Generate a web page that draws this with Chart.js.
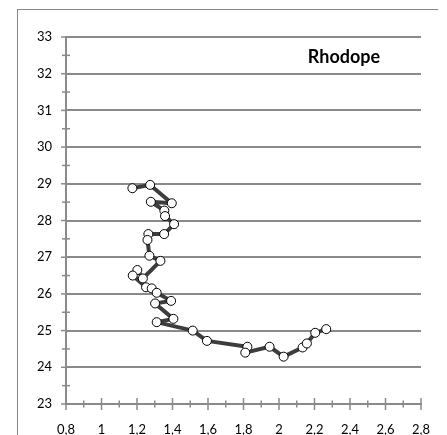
<!DOCTYPE html>
<html>
<head>
<meta charset="utf-8">
<script src="https://cdn.jsdelivr.net/npm/chart.js@4.4.0/dist/chart.umd.min.js"></script>
<style>
  body { margin: 0; background: #fff; }
  #wrap { position: relative; width: 447px; height: 435px; overflow: hidden; }
  #frame { position: absolute; left: 17px; top: 9px; width: 420px; height: 440px;
           border-left: 1px solid #878787; border-top: 1px solid #878787; }
  canvas { position: absolute; left: 0; top: 0; }
</style>
</head>
<body>
<div id="wrap">
  <div id="frame"></div>
  <canvas id="myChart" width="447" height="435"></canvas>
</div>
<script>
// Values, in line order
const xValues = [1.174, 1.274, 1.396, 1.278, 1.354, 1.358, 1.409, 1.353, 1.264, 1.259,
                 1.270, 1.332, 1.233, 1.202, 1.176, 1.251, 1.283, 1.311, 1.392, 1.302,
                 1.405, 1.311, 1.514, 1.594, 1.822, 1.810, 1.947, 2.026, 2.133, 2.157,
                 2.204, 2.266];
const yValues = [28.88, 28.97, 28.47, 28.51, 28.27, 28.12, 27.90, 27.63, 27.63, 27.47,
                 27.04, 26.90, 26.42, 26.65, 26.50, 26.18, 26.15, 26.03, 25.81, 25.74,
                 25.32, 25.23, 25.00, 24.72, 24.56, 24.40, 24.56, 24.29, 24.54, 24.65,
                 24.94, 25.04];

const xTickValues = [0.8, 1, 1.2, 1.4, 1.6, 1.8, 2, 2.2, 2.4, 2.6, 2.8];
const xMinorTicks = [0.9, 1.1, 1.3, 1.5, 1.7, 1.9, 2.1, 2.3, 2.5, 2.7];
const yTickValues = [23, 24, 25, 26, 27, 28, 29, 30, 31, 32, 33];
const yMinorTicks = [23.5, 24.5, 25.5, 26.5, 27.5, 28.5, 29.5, 30.5, 31.5, 32.5];
const chartTitle = 'Rhodope';

const axisColor = '#8a8a8a';
const fontFamily = 'Lato, "Open Sans", sans-serif';

const points = xValues.map((x, i) => ({ x: x, y: yValues[i] }));

// crossing tick marks + title inside the plot
const extras = {
  id: 'extras',
  afterDraw(chart) {
    const c = chart.ctx;
    const xs = chart.scales.x, ys = chart.scales.y;
    const a = chart.chartArea;
    c.save();
    c.strokeStyle = axisColor;
    c.lineWidth = 1.5;
    const seg = (x1, y1, x2, y2) => { c.beginPath(); c.moveTo(x1, y1); c.lineTo(x2, y2); c.stroke(); };
    yTickValues.forEach(v => { const y = ys.getPixelForValue(v); seg(a.left - 5, y, a.left, y); });
    yMinorTicks.forEach(v => { const y = ys.getPixelForValue(v); seg(a.left - 4, y, a.left + 4, y); });
    xTickValues.forEach(v => { const x = xs.getPixelForValue(v); seg(x, a.bottom - 6, x, a.bottom + 6); });
    xMinorTicks.forEach(v => { const x = xs.getPixelForValue(v); seg(x, a.bottom - 3.5, x, a.bottom + 3.5); });

    c.fillStyle = '#000';
    c.font = 'bold 18px ' + fontFamily;
    c.textAlign = 'right';
    c.textBaseline = 'middle';
    c.fillText(chartTitle, xs.getPixelForValue(2.57), ys.getPixelForValue(32.45));
    c.restore();
  }
};

const fmt = v => String(+Number(v).toFixed(1)).replace('.', ',');

const ctx = document.getElementById('myChart').getContext('2d');
const myChart = new Chart(ctx, {
  type: 'scatter',
  data: {
    datasets: [{
      data: points,
      showLine: true,
      borderColor: '#3d3d3d',
      borderWidth: 4,
      borderJoinStyle: 'round',
      pointRadius: 4.5,
      pointBackgroundColor: '#ffffff',
      pointBorderColor: '#000000',
      pointBorderWidth: 1
    }]
  },
  options: {
    responsive: false,
    animation: false,
    layout: { padding: { top: 37, right: 26, left: 0, bottom: 0 } },
    plugins: {
      legend: { display: false },
      tooltip: { enabled: false }
    },
    scales: {
      x: {
        type: 'linear',
        min: 0.8,
        max: 2.8,
        afterBuildTicks: s => { s.ticks = xTickValues.map(v => ({ value: v })); },
        afterFit: s => { s.height = 31; },
        grid: { display: false },
        border: { display: true, color: axisColor, width: 2 },
        ticks: {
          color: '#000',
          padding: 10,
          maxRotation: 0,
          autoSkip: false,
          font: { family: fontFamily, size: 13 },
          callback: v => fmt(v)
        }
      },
      y: {
        type: 'linear',
        min: 23,
        max: 33,
        afterBuildTicks: s => { s.ticks = yTickValues.map(v => ({ value: v })); },
        afterFit: s => { s.width = 66; },
        grid: { color: axisColor, lineWidth: 2, drawTicks: false },
        border: { display: true, color: axisColor, width: 2 },
        ticks: {
          color: '#000',
          padding: 14,
          autoSkip: false,
          font: { family: fontFamily, size: 13 },
          callback: v => fmt(v)
        }
      }
    }
  },
  plugins: [extras]
});
</script>
</body>
</html>
